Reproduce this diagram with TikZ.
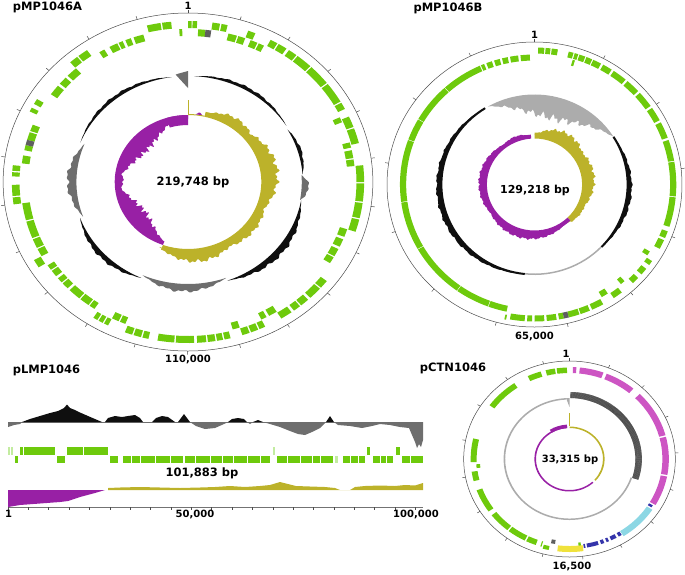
\documentclass[tikz,border=0pt]{standalone}
\usepackage{fontspec}
\setmainfont{DejaVu Sans}
\usetikzlibrary{positioning}

\definecolor{gene}{RGB}{110,202,12}
\definecolor{genefaint}{RGB}{195,236,160}
\definecolor{genegray}{RGB}{95,95,95}
\definecolor{gcpos}{RGB}{188,178,42}
\definecolor{gcneg}{RGB}{152,32,165}
\definecolor{skewdark}{RGB}{15,15,15}
\definecolor{skewgray}{RGB}{110,110,110}
\definecolor{skewlight}{RGB}{172,172,172}
\definecolor{ctnmag}{RGB}{205,85,195}
\definecolor{ctncyan}{RGB}{140,215,228}
\definecolor{ctnblue}{RGB}{52,52,170}
\definecolor{ctnyel}{RGB}{240,226,60}

% block on a ring: colour, from, to (degrees clockwise from the top), inner radius, outer radius
\newcommand{\arcblock}[5]{%
  \fill[#1] ({90-(#2)}:#4) arc[start angle={90-(#2)}, end angle={90-(#3)}, radius=#4]
    -- ({90-(#3)}:#5) arc[start angle={90-(#3)}, end angle={90-(#2)}, radius=#5] -- cycle;}
% ragged hump on a base circle: colour, from, to, base radius, height
\newcommand{\gcbump}[5]{%
  \fill[#1] plot[domain=#2:#3, samples=90, variable=\t]
    ({90-\t}:{#4+(#5)*sin(180/((#3)-(#2))*(\t-(#2)))*(0.82+0.1*sin(41*\t)+0.08*sin(93*mod(\t,120)))})
    -- ({90-(#3)}:#4) arc[start angle={90-(#3)}, end angle={90-(#2)}, radius=#4] -- cycle;}

\begin{document}
\begin{tikzpicture}[x=1pt, y=-1pt]

    % Define the styles
    \tikzstyle{maptitle} = [font=\bfseries\fontsize{11.5}{12}\selectfont, inner sep=0pt]
    \tikzstyle{bpsize} = [font=\bfseries\fontsize{11.5}{12}\selectfont, inner sep=0pt]
    \tikzstyle{poslabel} = [font=\bfseries\fontsize{10}{11}\selectfont, inner sep=0pt]
    \tikzstyle{mapring} = [draw=black!70, line width=0.5pt]
    \tikzstyle{tickmark} = [black!70, line width=0.5pt]

    \useasboundingbox (0,0) rectangle (685,574);

    % pMP1046A
    \begin{scope}[shift={(188,182)}, yscale=-1, xscale=1.094]
        \draw[mapring] (0,0) circle[radius=169];
        \foreach \k in {0,...,21}
            \draw[tickmark] ({90-\k*16.383}:169) -- ({90-\k*16.383}:172.5);
        \foreach \a/\b in {346.5/351, 351.5/354.5, 0/1.2, 1.5/3, 8/10.5, 11/13, 20/22.5, 28/30.5, 31/34,
                35/38, 38.5/44, 44.5/52, 52.5/60, 60.5/63, 66/70, 70.5/76, 84/90, 90.5/97, 97.5/103,
                103.5/108, 128/131, 131.5/136, 137/140, 140.5/143, 144/148, 154/156, 156.5/159,
                159.5/162, 166/168, 168.5/170.5, 171/173.5, 174/177, 178/184, 184.5/190, 193/195,
                195.5/198, 198.5/201, 207/208.5, 209/210.5, 211/212.5, 238/241, 262/264.5, 265/269,
                272/273.5, 274/276, 296/297.5, 299/301, 318/321, 321.5/325}
            \arcblock{gene}{\a}{\b}{154}{161};
        \foreach \a/\b in {357/358, 3.5/6, 14/17, 17.5/20, 22/24.5, 25/27, 65/67, 75/77, 78/81, 81.5/84,
                108/111, 112/115, 116/119, 119.5/122, 148/151, 152/154, 162/164.5, 202/204, 204.5/207,
                214/216, 216.5/220, 220.5/225, 226/228.5, 229/231, 232/234.5, 235/237, 241/244,
                244.5/248, 248.5/255, 255.5/262, 277/280, 282/284, 286/289, 289.5/292, 305/309,
                310/313, 314/318, 328/330, 332/335, 335.5/337, 338/340, 341/344.5}
            \arcblock{gene}{\a}{\b}{146}{153};
        \arcblock{genegray}{6}{8}{146}{153};
        \arcblock{genegray}{284}{286}{146}{153};
        % GC skew
        \gcbump{skewdark}{3}{58}{106}{4}
        \gcbump{skewdark}{60}{86}{105}{4}
        \gcbump{skewgray}{86}{100}{104}{8}
        \gcbump{skewdark}{100}{160}{105}{8}
        \gcbump{skewgray}{160}{204}{102}{9}
        \gcbump{skewdark}{204}{250}{105}{6}
        \gcbump{skewgray}{250}{292}{102}{10}
        \gcbump{skewdark}{292}{352}{106}{4}
        \fill[skewgray] (90:111) -- (94:109) -- (96:108) -- (90:94) -- cycle;
        % GC content
        \arcblock{gcpos}{0}{13}{67}{68}
        \arcblock{gcpos}{13}{200}{67}{72}
        \gcbump{gcpos}{13}{60}{70}{9}
        \gcbump{gcpos}{40}{120}{70}{15}
        \gcbump{gcpos}{95}{165}{70}{9}
        \gcbump{gcpos}{140}{202}{70}{12}
        \gcbump{gcneg}{6}{11}{68}{2.5}
        \arcblock{gcneg}{200}{360}{63}{67}
        \gcbump{gcneg}{200}{268}{64}{-18}
        \gcbump{gcneg}{262}{280}{64}{-6}
        \gcbump{gcneg}{272}{350}{64}{-18}
        \arcblock{gcneg}{343}{360}{57}{67}
        \draw[gcpos, line width=0.8pt] (90:67) -- (90:82);
    \end{scope}

    % pMP1046B
    \begin{scope}[shift={(534.5,184.5)}, yscale=-1, xscale=1.035]
        \draw[mapring] (0,0) circle[radius=142.5];
        \foreach \k in {0,...,12}
            \draw[tickmark] ({90-\k*27.86}:142.5) -- ({90-\k*27.86}:146);
        \foreach \a/\b in {192/200, 200.3/215, 215.3/240, 240.3/262, 262.3/290, 290.3/300, 300.3/318,
                318.3/336, 336.5/338, 339/341.5, 342.5/345, 346/348.5, 349.5/353, 354/358, 16.5/17.5,
                121/123, 138/140, 147/150}
            \arcblock{gene}{\a}{\b}{124}{130};
        \foreach \a/\b in {1.5/4, 4.5/6.5, 7/9.5, 14/16, 16.5/18, 18.5/21, 21.5/24, 24.5/28, 29/33, 34/40,
                41/47, 48/55, 56/62, 63/70, 71/80, 80.4/95, 95.4/108, 110/113, 114/118, 124/126,
                128/131, 133/136, 142/146, 151/156, 157/161, 161.5/166, 168/170, 171/175, 176/180,
                181/183, 184/190}
            \arcblock{gene}{\a}{\b}{131}{137};
        \arcblock{genegray}{166}{168}{131}{137};
        \arcblock{gene}{191.5}{192.2}{133}{138};
        % GC skew
        \gcbump{skewlight}{-30}{58}{90}{-26}
        \arcblock{skewdark}{58}{134}{89}{91}
        \gcbump{skewdark}{58}{134}{90}{5}
        \arcblock{skewlight}{134}{186}{89}{90.5}
        \arcblock{skewdark}{186}{328}{89}{91}
        \gcbump{skewdark}{186}{328}{90}{6}
        % GC content
        \arcblock{gcpos}{0}{136}{46}{52}
        \gcbump{gcpos}{0}{70}{50}{12}
        \gcbump{gcpos}{30}{125}{50}{10}
        \gcbump{gcpos}{100}{140}{50}{4}
        \arcblock{gcneg}{136}{356}{46}{50}
        \gcbump{gcneg}{140}{250}{49}{7}
        \gcbump{gcneg}{220}{330}{49}{6}
        \gcbump{gcneg}{320}{356}{49}{3}
    \end{scope}

    % pCTN1046
    \begin{scope}[shift={(569.5,459)}, yscale=-1, xscale=1.08]
        \draw[mapring] (0,0) circle[radius=98];
        \foreach \k in {0,...,16}
            \draw[tickmark] ({90-\k*21.612}:98) -- ({90-\k*21.612}:101);
        \foreach \a/\b in {200/206, 207/218, 219/232, 235/250, 256/262, 268/283, 306/326, 335/343,
                346/351.5, 352.5/358.5, 196.5/197.2}
            \arcblock{gene}{\a}{\b}{86}{91.5};
        \arcblock{gene}{192}{195.5}{89}{93};
        \arcblock{gene}{264}{266.5}{83}{86.5};
        \arcblock{gene}{173}{174.5}{84}{87.5};
        \foreach \a/\b in {2/4, 6/20, 22/40, 45/75, 76/100, 101/120}
            \arcblock{ctnmag}{\a}{\b}{86}{92};
        \foreach \a/\b in {121/122.5, 147.5/149.5, 151/154.5, 156/157.5, 159/161, 162.5/169.5, 170.5/171.5}
            \arcblock{ctnblue}{\a}{\b}{86}{90};
        \arcblock{ctncyan}{123.5}{147}{86}{92};
        \arcblock{ctnyel}{172}{187}{87}{93};
        \arcblock{genegray}{189}{191.5}{82}{86};
        % GC skew
        \arcblock{black!45}{1}{108}{61}{67}
        \foreach \t in {1,1.6,...,108}
            \draw[black!75, line width=0.45pt] ({90-\t}:61) -- ({90-\t}:67);
        \arcblock{skewlight}{108}{357}{59.5}{61}
        \fill[skewlight] (90:61) -- (93:61) -- (90:52) -- cycle;
        % GC content
        \arcblock{gcneg}{137}{356}{31}{32.5}
        \arcblock{gcneg}{328}{356}{31}{34.5}
        \arcblock{gcpos}{0}{132}{31}{32.5}
        \draw[gcpos, line width=0.7pt] (90:33) -- (90:46);
    \end{scope}

    % pLMP1046, GC skew
    \fill[skewgray] (8,422) -- (8,427) -- (14,425) -- (20,424) -- (22,422) -- (190,422) -- (196,426)
        -- (205,429) -- (215,428) -- (224,424) -- (228,422) -- (247,422) -- (250,424) -- (253,422)
        -- (263,422) -- (270,424) -- (280,427) -- (290,431) -- (298,434) -- (305,435) -- (312,432)
        -- (320,428) -- (326,422) -- (334,422) -- (338,425) -- (350,426) -- (362,428) -- (372,426)
        -- (380,424) -- (390,425) -- (400,427) -- (409,428) -- (412,435) -- (415,442) -- (417,448)
        -- (419,444) -- (421,447) -- (423,440) -- (423,422) -- cycle;
    \draw[skewgray, line width=0.8pt] (8,422) -- (423,422);
    \fill[skewdark] (22,422) -- (30,419) -- (40,416) -- (50,413) -- (58,411) -- (64,408) -- (67,404.5)
        -- (70,408) -- (75,410) -- (80,412.5) -- (88,416) -- (95,419) -- (102,422) -- cycle;
    \fill[skewdark] (105,422) -- (108,418) -- (115,416) -- (122,417) -- (128,416) -- (135,415)
        -- (140,418) -- (143,422) -- cycle;
    \fill[skewdark] (152,422) -- (156,418) -- (162,416) -- (168,417) -- (175,422) -- cycle;
    \fill[skewdark] (178,422) -- (184,414) -- (190,422) -- cycle;
    \fill[skewdark] (228,422) -- (232,419) -- (238,418) -- (244,419) -- (247,422) -- cycle;
    \fill[skewdark] (253,422) -- (258,420) -- (263,422) -- cycle;
    \fill[skewdark] (326,422) -- (330,416) -- (334,422) -- cycle;

    % pLMP1046, genes
    \foreach \a/\b in {20/22.5, 23.5/55, 67/83, 84/108, 367/369.5, 396/399.5}
        \fill[gene] (\a,447) rectangle (\b,455);
    \foreach \a/\b in {8/10, 11/13, 272.5/275}
        \fill[genefaint] (\a,447) rectangle (\b,455);
    \foreach \a/\b in {15/18, 57/65, 110/118, 123/131, 131.5/183, 185/270, 277/333, 343/365,
            373/393, 402/423}
        \fill[gene] (\a,456) rectangle (\b,463);
    \fill[genefaint] (335,456) rectangle (338,463);
    \foreach \a in {140, 155, 170, 195, 210, 222, 233, 247, 260, 287, 300, 312, 320, 350, 358, 380,
            386, 410}
        \draw[white, line width=0.7pt] (\a,456) -- (\a,463);

    % pLMP1046, GC content and axis
    \fill[gcneg] (8,490) -- (105,490) -- (95,493) -- (80,497) -- (68,501) -- (60,502) -- (40,503.5)
        -- (20,505) -- (8,507) -- cycle;
    \fill[gcpos] (108,490) -- (108,488) -- (120,487.5) -- (140,487) -- (160,487.5) -- (180,488)
        -- (200,487.5) -- (215,487) -- (230,486) -- (245,487) -- (260,486) -- (270,485) -- (280,482)
        -- (288,484) -- (296,486) -- (310,486.5) -- (325,487) -- (335,488) -- (340,490) -- (350,490)
        -- (355,487) -- (365,486) -- (380,485.5) -- (395,486) -- (405,485) -- (415,485.5)
        -- (423,483) -- (423,490) -- cycle;
    \draw[black!55, line width=1pt] (8,507) -- (423,507);
    \foreach \k in {0,...,20}
        \draw[tickmark] (8+\k*20.37,507) -- ++(0,3);

    % Labels
    \node[maptitle] (titleA) at (47.5,7) {pMP1046A};
    \node[maptitle] (titleB) at (448,8) {pMP1046B};
    \node[maptitle] (titleD) at (46.5,370) {pLMP1046};
    \node[maptitle] (titleC) at (453,368) {pCTN1046};

    \node[bpsize] (sizeA) at (193,182) {219,748 bp};
    \node[bpsize, font=\bfseries\fontsize{11}{12}\selectfont] (sizeB) at (535,190) {129,218 bp};
    \node[bpsize, font=\bfseries\fontsize{10}{11}\selectfont] (sizeC) at (570,460) {33,315 bp};
    \node[bpsize] (sizeD) at (202,473) {101,883 bp};

    \coordinate (topA) at (188,13);
    \coordinate (botA) at (188,351);
    \coordinate (topB) at (534.5,42);
    \coordinate (botB) at (534.5,327);
    \coordinate (topC) at (566,361);
    \coordinate (botC) at (572,557);
    \node[poslabel, above=3pt of topA] (oneA) {1};
    \node[poslabel, below=4pt of botA] (midA) {110,000};
    \node[poslabel, above=3pt of topB] (oneB) {1};
    \node[poslabel, below=5pt of botB] (midB) {65,000};
    \node[poslabel, above=3pt of topC] (oneC) {1};
    \node[poslabel, below=5pt of botC] (midC) {16,500};
    \node[poslabel] (startD) at (8.5,514) {1};
    \node[poslabel] (fiftyD) at (195,514) {50,000};
    \node[poslabel] (endD) at (416,514) {100,000};

\end{tikzpicture}
\end{document}
